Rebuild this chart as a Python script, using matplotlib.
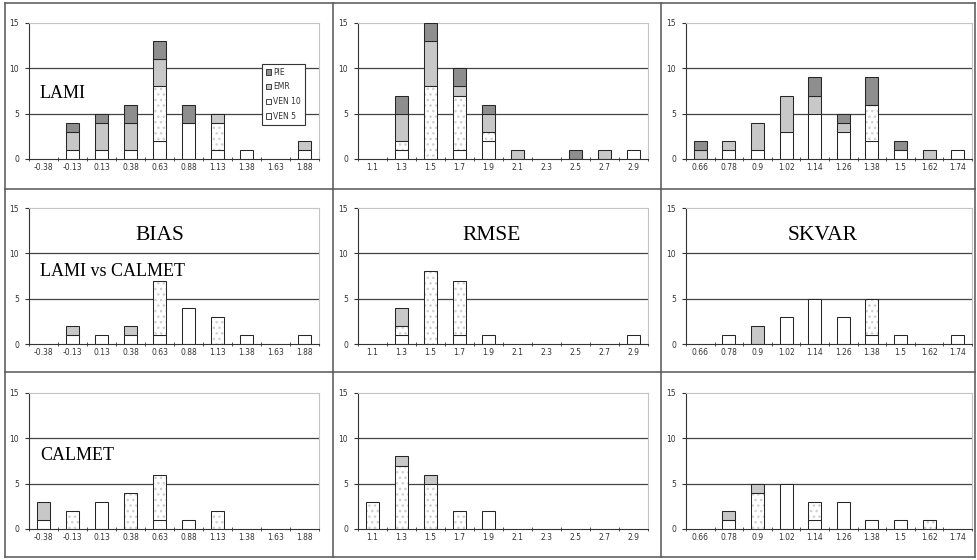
import matplotlib
matplotlib.use("Agg")
import matplotlib.pyplot as plt
from matplotlib.patches import Patch
from matplotlib.lines import Line2D

# category labels for the three metrics
bias_labels = ["-0.38", "-0.13", "0.13", "0.38", "0.63", "0.88", "1.13", "1.38", "1.63", "1.88"]
rmse_labels = ["1.1", "1.3", "1.5", "1.7", "1.9", "2.1", "2.3", "2.5", "2.7", "2.9"]
skvar_labels = ["0.66", "0.78", "0.9", "1.02", "1.14", "1.26", "1.38", "1.5", "1.62", "1.74"]

# LAMI
lami_bias_ven5 = [0, 1, 1, 1, 2, 4, 1, 1, 0, 1]
lami_bias_ven10 = [0, 0, 0, 0, 6, 0, 3, 0, 0, 0]
lami_bias_emr = [0, 2, 3, 3, 3, 0, 1, 0, 0, 1]
lami_bias_pie = [0, 1, 1, 2, 2, 2, 0, 0, 0, 0]

lami_rmse_ven5 = [0, 1, 0, 1, 2, 0, 0, 0, 0, 1]
lami_rmse_ven10 = [0, 1, 8, 6, 1, 0, 0, 0, 0, 0]
lami_rmse_emr = [0, 3, 5, 1, 2, 1, 0, 0, 1, 0]
lami_rmse_pie = [0, 2, 2, 2, 1, 0, 0, 1, 0, 0]

lami_skvar_ven5 = [0, 1, 1, 3, 5, 3, 2, 1, 0, 1]
lami_skvar_ven10 = [0, 0, 0, 0, 0, 0, 4, 0, 0, 0]
lami_skvar_emr = [1, 1, 3, 4, 2, 1, 0, 0, 1, 0]
lami_skvar_pie = [1, 0, 0, 0, 2, 1, 3, 1, 0, 0]

# LAMI vs CALMET
vs_bias_ven5 = [0, 1, 1, 1, 1, 4, 0, 1, 0, 1]
vs_bias_ven10 = [0, 0, 0, 0, 6, 0, 3, 0, 0, 0]
vs_bias_emr = [0, 1, 0, 1, 0, 0, 0, 0, 0, 0]
vs_bias_pie = [0, 0, 0, 0, 0, 0, 0, 0, 0, 0]

vs_rmse_ven5 = [0, 1, 0, 1, 1, 0, 0, 0, 0, 1]
vs_rmse_ven10 = [0, 1, 8, 6, 0, 0, 0, 0, 0, 0]
vs_rmse_emr = [0, 2, 0, 0, 0, 0, 0, 0, 0, 0]
vs_rmse_pie = [0, 0, 0, 0, 0, 0, 0, 0, 0, 0]

vs_skvar_ven5 = [0, 1, 0, 3, 5, 3, 1, 1, 0, 1]
vs_skvar_ven10 = [0, 0, 0, 0, 0, 0, 4, 0, 0, 0]
vs_skvar_emr = [0, 0, 2, 0, 0, 0, 0, 0, 0, 0]
vs_skvar_pie = [0, 0, 0, 0, 0, 0, 0, 0, 0, 0]

# CALMET
cal_bias_ven5 = [1, 0, 3, 0, 1, 1, 0, 0, 0, 0]
cal_bias_ven10 = [0, 2, 0, 4, 5, 0, 2, 0, 0, 0]
cal_bias_emr = [2, 0, 0, 0, 0, 0, 0, 0, 0, 0]
cal_bias_pie = [0, 0, 0, 0, 0, 0, 0, 0, 0, 0]

cal_rmse_ven5 = [0, 0, 0, 0, 2, 0, 0, 0, 0, 0]
cal_rmse_ven10 = [3, 7, 5, 2, 0, 0, 0, 0, 0, 0]
cal_rmse_emr = [0, 1, 1, 0, 0, 0, 0, 0, 0, 0]
cal_rmse_pie = [0, 0, 0, 0, 0, 0, 0, 0, 0, 0]

cal_skvar_ven5 = [0, 1, 0, 5, 1, 3, 1, 1, 0, 0]
cal_skvar_ven10 = [0, 0, 4, 0, 2, 0, 0, 0, 1, 0]
cal_skvar_emr = [0, 1, 1, 0, 0, 0, 0, 0, 0, 0]
cal_skvar_pie = [0, 0, 0, 0, 0, 0, 0, 0, 0, 0]

series_names = ["VEN 5", "VEN 10", "EMR", "PIE"]

W, H = 978, 560
EDGE = "#262626"
EMR_COL = "#c8c8c8"
PIE_COL = "#8e8e8e"


def px_rect(x0, y0, x1, y1):
    # figure pixels (top-left origin) -> figure fraction rect
    return [x0 / W, 1 - y1 / H, (x1 - x0) / W, (y1 - y0) / H]


def nonzero(vals, bottom):
    # skip empty segments so no flat outlines sit on the axis
    idx = [i for i, v in enumerate(vals) if v > 0]
    return idx, [vals[i] for i in idx], [bottom[i] for i in idx]


def panel(ax, labels, ven5, ven10, emr, pie):
    n = len(labels)
    w = 0.45
    lw = 0.75
    bottom = [0] * n
    for vals, style in [(ven5, "ven5"), (ven10, "ven10"), (emr, "emr"), (pie, "pie")]:
        xs, hs, bs = nonzero(vals, bottom)
        if style == "ven10":
            # white with faint dots
            ax.bar(xs, hs, w, bottom=bs, color="white", edgecolor="#d0d0d0", hatch="...",
                   linewidth=0, zorder=3)
            ax.bar(xs, hs, w, bottom=bs, fill=False, edgecolor=EDGE, linewidth=lw, zorder=4)
        else:
            col = {"ven5": "white", "emr": EMR_COL, "pie": PIE_COL}[style]
            ax.bar(xs, hs, w, bottom=bs, color=col, edgecolor=EDGE, linewidth=lw, zorder=3)
        bottom = [b + v for b, v in zip(bottom, vals)]

    ax.set_xlim(-0.5, n - 0.5)
    ax.set_ylim(0, 15)
    ax.set_yticks([0, 5, 10, 15])
    ax.set_yticklabels(["0", "5", "10", "15"])
    for g in [5, 10]:
        ax.axhline(g, color="#444444", linewidth=0.9, zorder=1)
    ax.set_xticks(list(range(n)))
    ax.set_xticklabels(labels)
    ax.set_xticks([i - 0.5 for i in range(n + 1)], minor=True)
    ax.tick_params(axis="x", which="major", length=0, pad=3, labelsize=5.5, labelcolor="#333333")
    ax.tick_params(axis="x", which="minor", length=3, direction="inout", color="#333333")
    ax.tick_params(axis="y", length=3, direction="out", pad=4, labelsize=5.5,
                   labelcolor="#333333", color="#333333")
    ax.spines["left"].set_color("#333333")
    ax.spines["bottom"].set_color("#333333")
    ax.spines["top"].set_color("#c4c4c4")
    ax.spines["right"].set_color("#c4c4c4")
    for s in ax.spines.values():
        s.set_linewidth(0.8)
    ax.spines["bottom"].set_zorder(5)
    ax.set_facecolor("white")


fig = plt.figure(figsize=(9.78, 5.6), dpi=100)

cols = [(29, 319), (358, 648), (686, 972)]
rows = [(23, 159), (208, 344), (393, 529)]

data = [
    [(bias_labels, lami_bias_ven5, lami_bias_ven10, lami_bias_emr, lami_bias_pie),
     (rmse_labels, lami_rmse_ven5, lami_rmse_ven10, lami_rmse_emr, lami_rmse_pie),
     (skvar_labels, lami_skvar_ven5, lami_skvar_ven10, lami_skvar_emr, lami_skvar_pie)],
    [(bias_labels, vs_bias_ven5, vs_bias_ven10, vs_bias_emr, vs_bias_pie),
     (rmse_labels, vs_rmse_ven5, vs_rmse_ven10, vs_rmse_emr, vs_rmse_pie),
     (skvar_labels, vs_skvar_ven5, vs_skvar_ven10, vs_skvar_emr, vs_skvar_pie)],
    [(bias_labels, cal_bias_ven5, cal_bias_ven10, cal_bias_emr, cal_bias_pie),
     (rmse_labels, cal_rmse_ven5, cal_rmse_ven10, cal_rmse_emr, cal_rmse_pie),
     (skvar_labels, cal_skvar_ven5, cal_skvar_ven10, cal_skvar_emr, cal_skvar_pie)],
]

axes = []
for r, (y0, y1) in enumerate(rows):
    for c, (x0, x1) in enumerate(cols):
        ax = fig.add_axes(px_rect(x0, y0, x1, y1))
        panel(ax, *data[r][c])
        axes.append(ax)

# table borders
grid_col = "#555555"
for xp in [5, 333, 661, 975]:
    fig.add_artist(Line2D([xp / W, xp / W], [1 - 3 / H, 1 - 557 / H], color=grid_col, linewidth=1.1))
for yp in [3, 189, 372, 557]:
    fig.add_artist(Line2D([5 / W, 975 / W], [1 - yp / H, 1 - yp / H], color=grid_col, linewidth=1.1))

# panel texts
serif = "Liberation Serif"
fig.text(40 / W, 1 - 93 / H, "LAMI", family=serif, fontsize=13, va="center", ha="left")
fig.text(40 / W, 1 - 271 / H, "LAMI vs CALMET", family=serif, fontsize=13, va="center", ha="left")
fig.text(40 / W, 1 - 456 / H, "CALMET", family=serif, fontsize=13, va="center", ha="left")
fig.text(160 / W, 1 - 235 / H, "BIAS", family=serif, fontsize=15.5, va="center", ha="center")
fig.text(492 / W, 1 - 235 / H, "RMSE", family=serif, fontsize=15.5, va="center", ha="center")
fig.text(823 / W, 1 - 235 / H, "SKVAR", family=serif, fontsize=15.5, va="center", ha="center")

# legend in the first panel
handles = [
    Patch(facecolor=PIE_COL, edgecolor=EDGE, linewidth=0.6, label=series_names[3]),
    Patch(facecolor=EMR_COL, edgecolor=EDGE, linewidth=0.6, label=series_names[2]),
    Patch(facecolor="white", edgecolor=EDGE, linewidth=0.6, label=series_names[1]),
    Patch(facecolor="white", edgecolor=EDGE, linewidth=0.6, label=series_names[0]),
]
leg = axes[0].legend(handles=handles, loc="upper left",
                     bbox_to_anchor=(258 / W, 1 - 60 / H), bbox_transform=fig.transFigure,
                     fontsize=5.5, handlelength=0.7, handleheight=0.7, handletextpad=0.3,
                     labelspacing=0.75, borderpad=0.5, fancybox=False, framealpha=1)
leg.get_frame().set_edgecolor("#333333")
leg.get_frame().set_linewidth(0.8)
for t in leg.get_texts():
    t.set_color("#333333")
leg.set_zorder(10)

fig.savefig("out.png", dpi=100)
